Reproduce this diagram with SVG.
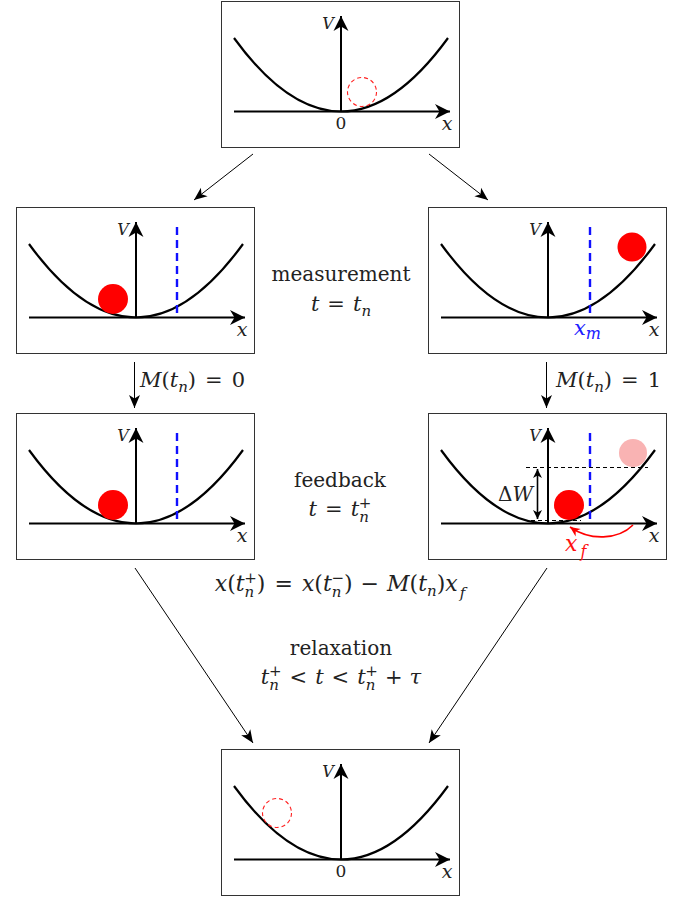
<svg xmlns="http://www.w3.org/2000/svg" xmlns:xlink="http://www.w3.org/1999/xlink" width="687" height="899" viewBox="0 0 687 899">
<style>
.box{fill:#fff;stroke:#333;stroke-width:1}
.curve{fill:none;stroke:#000;stroke-width:2.2}
.axis{fill:none;stroke:#000;stroke-width:2}
.conn{fill:none;stroke:#000;stroke-width:1}
.lbl{font-family:"DejaVu Serif","Liberation Serif",serif;font-size:20px;fill:#222}
.eq{font-size:21px}
.mi{font-style:italic}
.small{font-size:15px}
.blue{fill:none;stroke:#1010ff;stroke-width:2.4;stroke-dasharray:8 5}
.ghost{fill:none;stroke:#ff2020;stroke-width:1.1;stroke-dasharray:4 3}
.ball{fill:#ff0000}
.hd{fill:none;stroke:#000;stroke-width:1;stroke-dasharray:4 3}
</style>
<defs>
<marker id="ax" markerUnits="userSpaceOnUse" orient="auto" refX="0" refY="0" markerWidth="20" markerHeight="20" overflow="visible"><path d="M0,0 L-15,-7.5 L-10.5,0 L-15,7.5 Z" fill="#000"/></marker>
<marker id="ca" markerUnits="userSpaceOnUse" orient="auto" refX="0" refY="0" markerWidth="20" markerHeight="20" overflow="visible"><path d="M0,0 L-13,-5.5 L-9.5,0 L-13,5.5 Z" fill="#000"/></marker>
<marker id="dw" markerUnits="userSpaceOnUse" orient="auto-start-reverse" refX="0" refY="0" markerWidth="12" markerHeight="12" overflow="visible"><path d="M0,0 L-9,-4.5 L-6.5,0 L-9,4.5 Z" fill="#000"/></marker>
<marker id="ra" markerUnits="userSpaceOnUse" orient="auto" refX="0" refY="0" markerWidth="12" markerHeight="12" overflow="visible"><path d="M0,0 L-10,-4.5 L-7,0 L-10,4.5 Z" fill="#ff0000"/></marker>
<g id="panel">
<rect class="box" x="0.5" y="0.5" width="238" height="146"/>
<path class="curve" d="M13,37 Q120,184 227,37"/>
<path class="axis" d="M13,110.5 L229,110.5" marker-end="url(#ax)"/>
<path class="axis" d="M120,110.5 L120,15" marker-end="url(#ax)"/>
<text class="lbl mi" x="107" y="28" text-anchor="middle" style="font-size:16px">V</text>
<text class="lbl mi" x="226" y="129" text-anchor="middle" style="font-size:19px">x</text>
</g>
</defs>

<g id="connectors">
<line class="conn" x1="253" y1="154" x2="194" y2="200" marker-end="url(#ca)"/>
<line class="conn" x1="429" y1="154" x2="488" y2="200" marker-end="url(#ca)"/>
<line class="conn" x1="134.5" y1="362" x2="134.5" y2="408" marker-end="url(#ca)"/>
<line class="conn" x1="546.5" y1="362" x2="546.5" y2="408" marker-end="url(#ca)"/>
<line class="conn" x1="135" y1="568" x2="253" y2="743" marker-end="url(#ca)"/>
<line class="conn" x1="547" y1="568" x2="429" y2="743" marker-end="url(#ca)"/>
</g>

<g id="initial" transform="translate(221,1)">
<use xlink:href="#panel"/>
<text class="lbl" x="120" y="128" text-anchor="middle" style="font-size:17px">0</text>
<circle class="ghost" cx="141" cy="91" r="14.5"/>
</g>

<g id="meas0" transform="translate(16,207)">
<use xlink:href="#panel"/>
<line class="blue" x1="161" y1="20" x2="161" y2="110.5"/>
<circle class="ball" cx="97" cy="92" r="15"/>
</g>

<g id="meas1" transform="translate(428,207)">
<use xlink:href="#panel"/>
<line class="blue" x1="162" y1="20" x2="162" y2="110.5"/>
<circle class="ball" cx="204" cy="40" r="14.5"/>
<text class="lbl mi" x="146" y="128" style="font-size:21px;fill:#2020ff">x<tspan dy="4" style="font-size:16px">m</tspan></text>
</g>

<g id="fb0" transform="translate(16,413)">
<use xlink:href="#panel"/>
<line class="blue" x1="161" y1="20" x2="161" y2="110.5"/>
<circle class="ball" cx="97" cy="92" r="15"/>
</g>

<g id="fb1" transform="translate(428,413)">
<use xlink:href="#panel"/>
<line class="blue" x1="162" y1="20" x2="162" y2="110.5"/>
<circle cx="205" cy="40" r="14" fill="#f9b3b3"/>
<line class="hd" x1="98" y1="54.5" x2="220" y2="54.5"/>
<line class="hd" x1="103" y1="107.5" x2="153" y2="107.5"/>
<line x1="109.5" y1="56" x2="109.5" y2="106" stroke="#000" stroke-width="1.6" marker-start="url(#dw)" marker-end="url(#dw)"/>
<text class="lbl" x="105" y="88" text-anchor="end" style="font-size:20px">Δ<tspan class="mi">W</tspan></text>
<circle class="ball" cx="141" cy="92" r="15"/>
<path d="M205,112 C190,127 162,128 142,114" fill="none" stroke="#ff0000" stroke-width="1.6" marker-end="url(#ra)"/>
<text class="lbl mi" x="137" y="138" style="font-size:22px;fill:#ff1010">x<tspan dx="3" dy="6" style="font-size:16px">f</tspan></text>
</g>

<g id="relaxed" transform="translate(221,749)">
<use xlink:href="#panel"/>
<text class="lbl" x="120" y="128" text-anchor="middle" style="font-size:17px">0</text>
<circle class="ghost" cx="56" cy="64" r="14.5"/>
</g>

<g id="labels">
<text class="lbl" x="341" y="281" text-anchor="middle">measurement</text>
<text class="lbl eq" x="341" y="311" text-anchor="middle"><tspan class="mi">t</tspan><tspan dx="8">=</tspan><tspan class="mi" dx="8">t</tspan><tspan class="mi small" dy="5">n</tspan></text>
<text class="lbl" x="340" y="487" text-anchor="middle">feedback</text>
<text class="lbl eq" x="340" y="516" text-anchor="middle"><tspan class="mi">t</tspan><tspan dx="8">=</tspan><tspan class="mi" dx="8">t</tspan><tspan class="mi small" dy="6">n</tspan><tspan class="small" dx="-10" dy="-14">+</tspan></text>
<text class="lbl eq" x="140" y="387"><tspan class="mi">M</tspan>(<tspan class="mi">t</tspan><tspan class="mi small" dy="5">n</tspan><tspan dy="-5">)</tspan><tspan dx="9">=</tspan><tspan dx="9">0</tspan></text>
<text class="lbl eq" x="556" y="387"><tspan class="mi">M</tspan>(<tspan class="mi">t</tspan><tspan class="mi small" dy="5">n</tspan><tspan dy="-5">)</tspan><tspan dx="9">=</tspan><tspan dx="9">1</tspan></text>
<text class="lbl eq" x="340" y="591" text-anchor="middle" style="font-size:22px"><tspan class="mi">x</tspan>(<tspan class="mi">t</tspan><tspan class="mi small" dy="6">n</tspan><tspan class="small" dx="-10" dy="-14">+</tspan><tspan dy="8">)</tspan><tspan dx="9">=</tspan><tspan class="mi" dx="9">x</tspan>(<tspan class="mi">t</tspan><tspan class="mi small" dy="6">n</tspan><tspan class="small" dx="-10" dy="-14">−</tspan><tspan dy="8">)</tspan><tspan dx="8">−</tspan><tspan class="mi" dx="8">M</tspan>(<tspan class="mi">t</tspan><tspan class="mi small" dy="5">n</tspan><tspan dy="-5">)</tspan><tspan class="mi">x</tspan><tspan class="mi small" dx="2" dy="7">f</tspan></text>
<text class="lbl" x="341" y="655" text-anchor="middle">relaxation</text>
<text class="lbl eq" x="341" y="684" text-anchor="middle"><tspan class="mi">t</tspan><tspan class="mi small" dy="6">n</tspan><tspan class="small" dx="-10" dy="-14">+</tspan><tspan dx="8" dy="8">&lt;</tspan><tspan class="mi" dx="8">t</tspan><tspan dx="8">&lt;</tspan><tspan class="mi" dx="8">t</tspan><tspan class="mi small" dy="6">n</tspan><tspan class="small" dx="-10" dy="-14">+</tspan><tspan dx="7" dy="8">+</tspan><tspan class="mi" dx="7">τ</tspan></text>
</g>
</svg>
